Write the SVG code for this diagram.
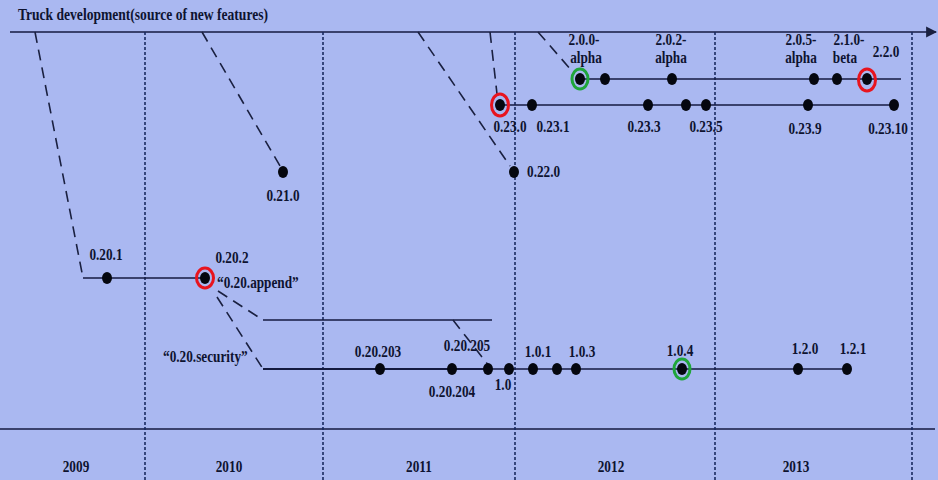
<svg xmlns="http://www.w3.org/2000/svg" width="938" height="480" viewBox="0 0 938 480">
<defs>
<style>
.bg{fill:#aab8f1}
.t{font-family:"Liberation Serif","Times New Roman",serif;font-weight:bold;font-size:17px;fill:#0e1330}
.m{text-anchor:middle}
.dot{fill:#05070f}
.red{fill:none;stroke:#e8141e;stroke-width:3}
.grn{fill:none;stroke:#1fa63a;stroke-width:3}
.sol{stroke:#141a40;stroke-width:1.3;fill:none}
.thk{stroke:#141a40;stroke-width:2.2;fill:none}
.dsh{stroke:#1a2040;stroke-width:1.6;stroke-dasharray:11 7;fill:none}
.yr{stroke:#1a2a60;stroke-width:1.6;stroke-dasharray:3 2;fill:none}
</style>
<marker id="arr" viewBox="0 0 10 10" refX="9" refY="5" markerWidth="11" markerHeight="13" markerUnits="userSpaceOnUse" orient="auto">
<path d="M0,0 L10,5 L0,10 z" fill="#1a2040"/>
</marker>
</defs>
<rect class="bg" x="0" y="0" width="938" height="480"/>

<g id="frame">
<text class="t" x="18" y="20" textLength="250" lengthAdjust="spacingAndGlyphs">Truck development(source of new features)</text>
<line class="sol" x1="10" y1="32" x2="936" y2="32" marker-end="url(#arr)"/>
<line class="sol" x1="0" y1="429" x2="935" y2="429"/>
<line class="yr" x1="145" y1="32" x2="145" y2="480"/>
<line class="yr" x1="323" y1="32" x2="323" y2="480"/>
<line class="yr" x1="515" y1="32" x2="515" y2="480"/>
<line class="yr" x1="715" y1="32" x2="715" y2="480"/>
<line class="yr" x1="912" y1="32" x2="912" y2="480" stroke-width="2.6"/>
<text class="t m" transform="translate(76,472) scale(0.78,1)">2009</text>
<text class="t m" transform="translate(229,472) scale(0.78,1)">2010</text>
<text class="t m" transform="translate(419,472) scale(0.78,1)">2011</text>
<text class="t m" transform="translate(611,472) scale(0.78,1)">2012</text>
<text class="t m" transform="translate(796,472) scale(0.78,1)">2013</text>
</g>

<g id="connectors">
<polyline class="dsh" points="35,32 83,278"/>
<line class="sol" x1="83" y1="278" x2="205" y2="278"/>
<line class="dsh" x1="202" y1="32" x2="280" y2="166"/>
<line class="dsh" x1="418" y1="32" x2="510" y2="166"/>
<line class="dsh" x1="490" y1="32" x2="497" y2="94"/>
<line class="dsh" x1="538" y1="32" x2="572" y2="71"/>
<line class="dsh" x1="218" y1="291" x2="263" y2="320"/>
<line class="sol" x1="263" y1="320" x2="492" y2="320"/>
<line class="dsh" x1="453" y1="320" x2="489" y2="366" stroke-dasharray="14 14"/>
<line class="dsh" x1="217" y1="297" x2="263" y2="369"/>
<line class="thk" x1="263" y1="369" x2="488" y2="369"/>
<line class="sol" x1="488" y1="369" x2="848" y2="369"/>
<line class="sol" x1="500" y1="105" x2="894" y2="105"/>
<line class="sol" x1="580" y1="79" x2="901" y2="79"/>
</g>

<g id="n-0.20.1"><ellipse class="dot" cx="107" cy="278" rx="5" ry="6"/><text class="t m" transform="translate(106,260) scale(0.78,1)">0.20.1</text></g>
<g id="n-0.20.2"><ellipse class="dot" cx="205" cy="278" rx="5" ry="6"/><ellipse class="red" cx="205" cy="278" rx="8.5" ry="10"/><text class="t m" transform="translate(232,263) scale(0.78,1)">0.20.2</text><text class="t" transform="translate(217,288) scale(0.78,1)">“0.20.append”</text></g>
<g id="n-security"><text class="t" transform="translate(163,362) scale(0.78,1)">“0.20.security”</text></g>
<g id="n-0.21.0"><ellipse class="dot" cx="283" cy="172" rx="5" ry="6"/><text class="t m" transform="translate(283,201) scale(0.78,1)">0.21.0</text></g>
<g id="n-0.22.0"><ellipse class="dot" cx="514" cy="172" rx="5" ry="6"/><text class="t" transform="translate(527,177) scale(0.78,1)">0.22.0</text></g>

<g id="n-0.23.0"><ellipse class="dot" cx="500" cy="105" rx="5" ry="6"/><ellipse class="red" cx="500" cy="105" rx="8.5" ry="11"/><text class="t m" transform="translate(510,132) scale(0.78,1)">0.23.0</text></g>
<g id="n-0.23.1"><ellipse class="dot" cx="532" cy="105" rx="5" ry="6"/><text class="t m" transform="translate(553,132) scale(0.78,1)">0.23.1</text></g>
<g id="n-0.23.3"><ellipse class="dot" cx="648" cy="105" rx="5" ry="6"/><text class="t m" transform="translate(644,132) scale(0.78,1)">0.23.3</text></g>
<g id="n-0.23.4"><ellipse class="dot" cx="686" cy="105" rx="5" ry="6"/></g>
<g id="n-0.23.5"><ellipse class="dot" cx="706" cy="105" rx="5" ry="6"/><text class="t m" transform="translate(706,132) scale(0.78,1)">0.23.5</text></g>
<g id="n-0.23.9"><ellipse class="dot" cx="808" cy="105" rx="5" ry="6"/><text class="t m" transform="translate(805,134) scale(0.78,1)">0.23.9</text></g>
<g id="n-0.23.10"><ellipse class="dot" cx="894" cy="105" rx="5" ry="6"/><text class="t m" transform="translate(888,134) scale(0.78,1)">0.23.10</text></g>

<g id="n-2.0.0-alpha"><ellipse class="dot" cx="580" cy="79" rx="5" ry="6"/><ellipse class="grn" cx="580" cy="79" rx="8" ry="10"/><text class="t m" transform="translate(584,45) scale(0.78,1)">2.0.0-</text><text class="t m" transform="translate(586,63) scale(0.78,1)">alpha</text></g>
<g id="n-2.0.1"><ellipse class="dot" cx="605" cy="79" rx="5" ry="6"/></g>
<g id="n-2.0.2-alpha"><ellipse class="dot" cx="672" cy="79" rx="5" ry="6"/><text class="t m" transform="translate(671,45) scale(0.78,1)">2.0.2-</text><text class="t m" transform="translate(671,63) scale(0.78,1)">alpha</text></g>
<g id="n-2.0.5-alpha"><ellipse class="dot" cx="814" cy="79" rx="5" ry="6"/><text class="t m" transform="translate(801,45) scale(0.78,1)">2.0.5-</text><text class="t m" transform="translate(801,63) scale(0.78,1)">alpha</text></g>
<g id="n-2.1.0-beta"><ellipse class="dot" cx="837" cy="79" rx="5" ry="6"/><text class="t m" transform="translate(849,45) scale(0.78,1)">2.1.0-</text><text class="t m" transform="translate(845,63) scale(0.78,1)">beta</text></g>
<g id="n-2.2.0"><ellipse class="dot" cx="867" cy="79" rx="5" ry="6"/><ellipse class="red" cx="867" cy="80" rx="8.5" ry="11"/><text class="t m" transform="translate(886,57) scale(0.78,1)">2.2.0</text></g>

<g id="n-0.20.203"><ellipse class="dot" cx="380" cy="369" rx="5" ry="6"/><text class="t m" transform="translate(378,357) scale(0.78,1)">0.20.203</text></g>
<g id="n-0.20.204"><ellipse class="dot" cx="452" cy="369" rx="5" ry="6"/><text class="t m" transform="translate(452,397) scale(0.78,1)">0.20.204</text></g>
<g id="n-0.20.205"><ellipse class="dot" cx="488" cy="369" rx="5" ry="6"/><text class="t m" transform="translate(467,351) scale(0.78,1)">0.20.205</text></g>
<g id="n-1.0"><ellipse class="dot" cx="509" cy="369" rx="5" ry="6"/><text class="t m" transform="translate(503,390) scale(0.78,1)">1.0</text></g>
<g id="n-1.0.1"><ellipse class="dot" cx="533" cy="369" rx="5" ry="6"/><text class="t m" transform="translate(538,357) scale(0.78,1)">1.0.1</text></g>
<g id="n-1.0.2"><ellipse class="dot" cx="557" cy="369" rx="5" ry="6"/></g>
<g id="n-1.0.3"><ellipse class="dot" cx="576" cy="369" rx="5" ry="6"/><text class="t m" transform="translate(582,357) scale(0.78,1)">1.0.3</text></g>
<g id="n-1.0.4"><ellipse class="dot" cx="682" cy="369" rx="5" ry="6"/><ellipse class="grn" cx="682" cy="369" rx="8" ry="10"/><text class="t m" transform="translate(680,356) scale(0.78,1)">1.0.4</text></g>
<g id="n-1.2.0"><ellipse class="dot" cx="798" cy="369" rx="5" ry="6"/><text class="t m" transform="translate(805,354) scale(0.78,1)">1.2.0</text></g>
<g id="n-1.2.1"><ellipse class="dot" cx="847" cy="369" rx="5" ry="6"/><text class="t m" transform="translate(853,354) scale(0.78,1)">1.2.1</text></g>
</svg>
